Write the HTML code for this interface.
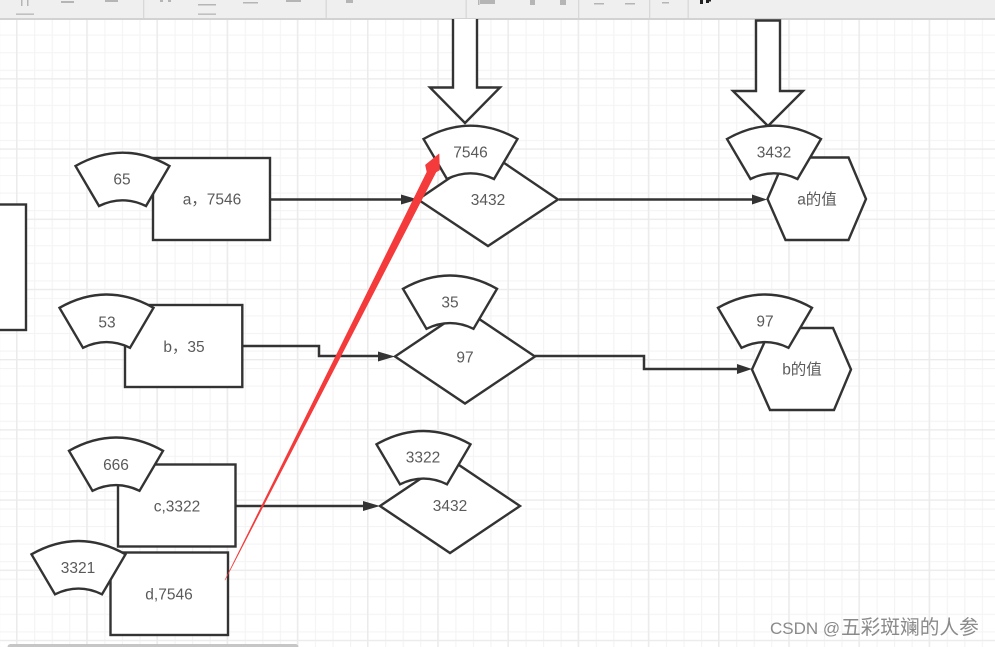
<!DOCTYPE html>
<html><head><meta charset="utf-8"><style>
html,body{margin:0;padding:0;background:#fff;width:995px;height:647px;overflow:hidden}
svg{display:block;filter:blur(.3px)}
text{font-family:"Liberation Sans","Noto Sans CJK SC",sans-serif;font-size:15.5px;fill:#5a5a5a;text-anchor:middle}
.s{fill:#fff;stroke:#333;stroke-width:2.4;stroke-linejoin:miter}
.c{fill:none;stroke:#333;stroke-width:2.5}
.h{fill:#333;stroke:none}
</style></head><body>
<svg width="995" height="647" viewBox="0 0 995 647" xmlns="http://www.w3.org/2000/svg">
<defs>
<pattern id="minor" x="-1" y="-.5" width="17.55" height="17.55" patternUnits="userSpaceOnUse">
<path d="M.5 0V17.55M0 .5H17.55" fill="none" stroke="#f4f4f4" stroke-width="1.3"/></pattern>
<pattern id="major" x="16" y="8" width="70.2" height="70.2" patternUnits="userSpaceOnUse">
<path d="M.7 0V70.2M0 .7H70.2" fill="none" stroke="#ebebeb" stroke-width="1.4"/></pattern>
<path id="fan" d="M-47 13.3Q0-13.3 47 13.3L23.5 53.3Q0 41.9-23.5 53.3Z"/>
</defs>
<rect width="995" height="647" fill="#fff"/>
<rect width="995" height="647" fill="url(#minor)"/>
<rect width="995" height="647" fill="url(#major)"/>

<!-- toolbar -->
<rect width="995" height="18.5" fill="#efefef"/>
<rect y="18" width="995" height="2" fill="#d2d2d2"/>
<g fill="#d8d8d8">
<rect x="143" width="1.3" height="18"/><rect x="325.5" width="1.3" height="18"/><rect x="465.5" width="1.3" height="18"/><rect x="578" width="1.3" height="18"/><rect x="649" width="1.3" height="18"/><rect x="687.5" width="1.3" height="18"/>
</g>
<g fill="#b5b5b5">
<rect x="16" y="13.5" width="18" height="1.3"/><rect x="21" y="0" width="1.5" height="6"/><rect x="27" y="0" width="1.5" height="6"/>
<rect x="61" y="1" width="13" height="2"/><rect x="105" y="0" width="13" height="2"/>
<rect x="160" y="0" width="3" height="2"/><rect x="168" y="0" width="3" height="2"/>
<rect x="198" y="4" width="18" height="1.5"/><rect x="198" y="13.5" width="18" height="1.3"/>
<rect x="243" y="2" width="15" height="1.5"/><rect x="286" y="0" width="15" height="2"/>
<rect x="346" y="0" width="7" height="3"/>
<rect x="480" y="0" width="15" height="4"/><rect x="478" y="0" width="1.5" height="5"/>
<rect x="530" y="0" width="5" height="5"/><rect x="560" y="0" width="6" height="5"/>
<rect x="594" y="3" width="10" height="1.5"/><rect x="625" y="3" width="10" height="1.5"/>
<rect x="662" y="2" width="7" height="1.5"/>
</g>
<rect x="700" y="0" width="3" height="4" fill="#222"/><rect x="706" y="0" width="3" height="3" fill="#222"/><rect x="709" y="0" width="2" height="1.5" fill="#222"/>

<!-- scrollbar -->
<rect x="7.5" y="644" width="291" height="8" rx="3" fill="#c6c6c6"/>

<!-- block arrows -->
<path class="s" d="M453 19V87.5H430L465 123L500 87.5H477V19"/>
<path class="s" d="M756 20.5H780V91H803L768 126L733 91H756Z"/>

<!-- connectors -->
<path class="c" d="M271 199.5H405"/>
<path class="c" d="M559 199.5H755"/>
<path class="c" d="M243 346H319V356H382"/>
<path class="c" d="M535 356H644V369H740"/>
<path class="c" d="M236 506H367"/>

<!-- rects -->
<rect class="s" x="-5" y="204.5" width="31" height="125.5"/>
<rect class="s" x="153" y="158" width="117" height="82"/>
<rect class="s" x="125" y="305" width="117.3" height="82"/>
<rect class="s" x="118" y="464.5" width="117.5" height="82"/>
<rect class="s" x="110.5" y="552.5" width="117.5" height="82.5"/>

<!-- diamonds -->
<path class="s" d="M418 199.5L488 152L558 199.5L488 246Z"/>
<path class="s" d="M395 356.5L465 309.5L535 356.5L465 403.5Z"/>
<path class="s" d="M380 506L450 459L520 506L450 553Z"/>

<!-- hexagons -->
<path class="s" d="M767.5 199L785.5 157.5H848.5L866 199L848.5 240H785.5Z"/>
<path class="s" d="M752 369.5L771 328H833L851 369.5L834 410H770Z"/>

<!-- arrowheads -->
<path class="h" d="M401 194.5L418 199.5L401 204.5Z"/>
<path class="h" d="M752 194.5L767 199.5L752 204.5Z"/>
<path class="h" d="M378 351.5L395 356.5L378 361.5Z"/>
<path class="h" d="M737 364L752 369L737 374Z"/>
<path class="h" d="M363 501L380 506L363 511Z"/>

<!-- fans -->
<use href="#fan" class="s" x="470.5" y="125.7"/>
<use href="#fan" class="s" x="774" y="125.7"/>
<use href="#fan" class="s" x="122.5" y="152.7"/>
<use href="#fan" class="s" x="106.5" y="294.5"/>
<use href="#fan" class="s" x="450" y="275.5"/>
<use href="#fan" class="s" x="765" y="294.5"/>
<use href="#fan" class="s" x="423.5" y="431"/>
<use href="#fan" class="s" x="116" y="437.5"/>
<use href="#fan" class="s" x="78.5" y="541"/>

<!-- labels -->
<text x="470.5" y="157.5">7546</text>
<text x="774" y="157.5">3432</text>
<text x="122" y="184.5">65</text>
<text x="107" y="327.5">53</text>
<text x="450" y="307.5">35</text>
<text x="765" y="326.5">97</text>
<text x="423" y="462.5">3322</text>
<text x="116" y="470">666</text>
<text x="78" y="573">3321</text>
<text x="212" y="204.5">a，7546</text>
<text x="184" y="352">b，35</text>
<text x="177" y="511.5">c,3322</text>
<text x="169" y="599.5">d,7546</text>
<text x="488" y="205">3432</text>
<text x="465" y="362.5">97</text>
<text x="450" y="511">3432</text>
<text x="817" y="204.5">a的值</text>
<text x="802" y="374.5">b的值</text>

<!-- red arrow -->
<path d="M225 580L427 172L425.5 165L439 154L439.5 170L436 172Z" fill="#f43a3a" stroke="#f43a3a" stroke-width=".6" stroke-linejoin="round"/>

<!-- watermark -->
<text x="770" y="634" style="text-anchor:start;font-size:17px;fill:#8a8a8a">CSDN @<tspan x="841" style="font-size:19.7px">五彩斑斓的人参</tspan></text>
</svg>
</body></html>
